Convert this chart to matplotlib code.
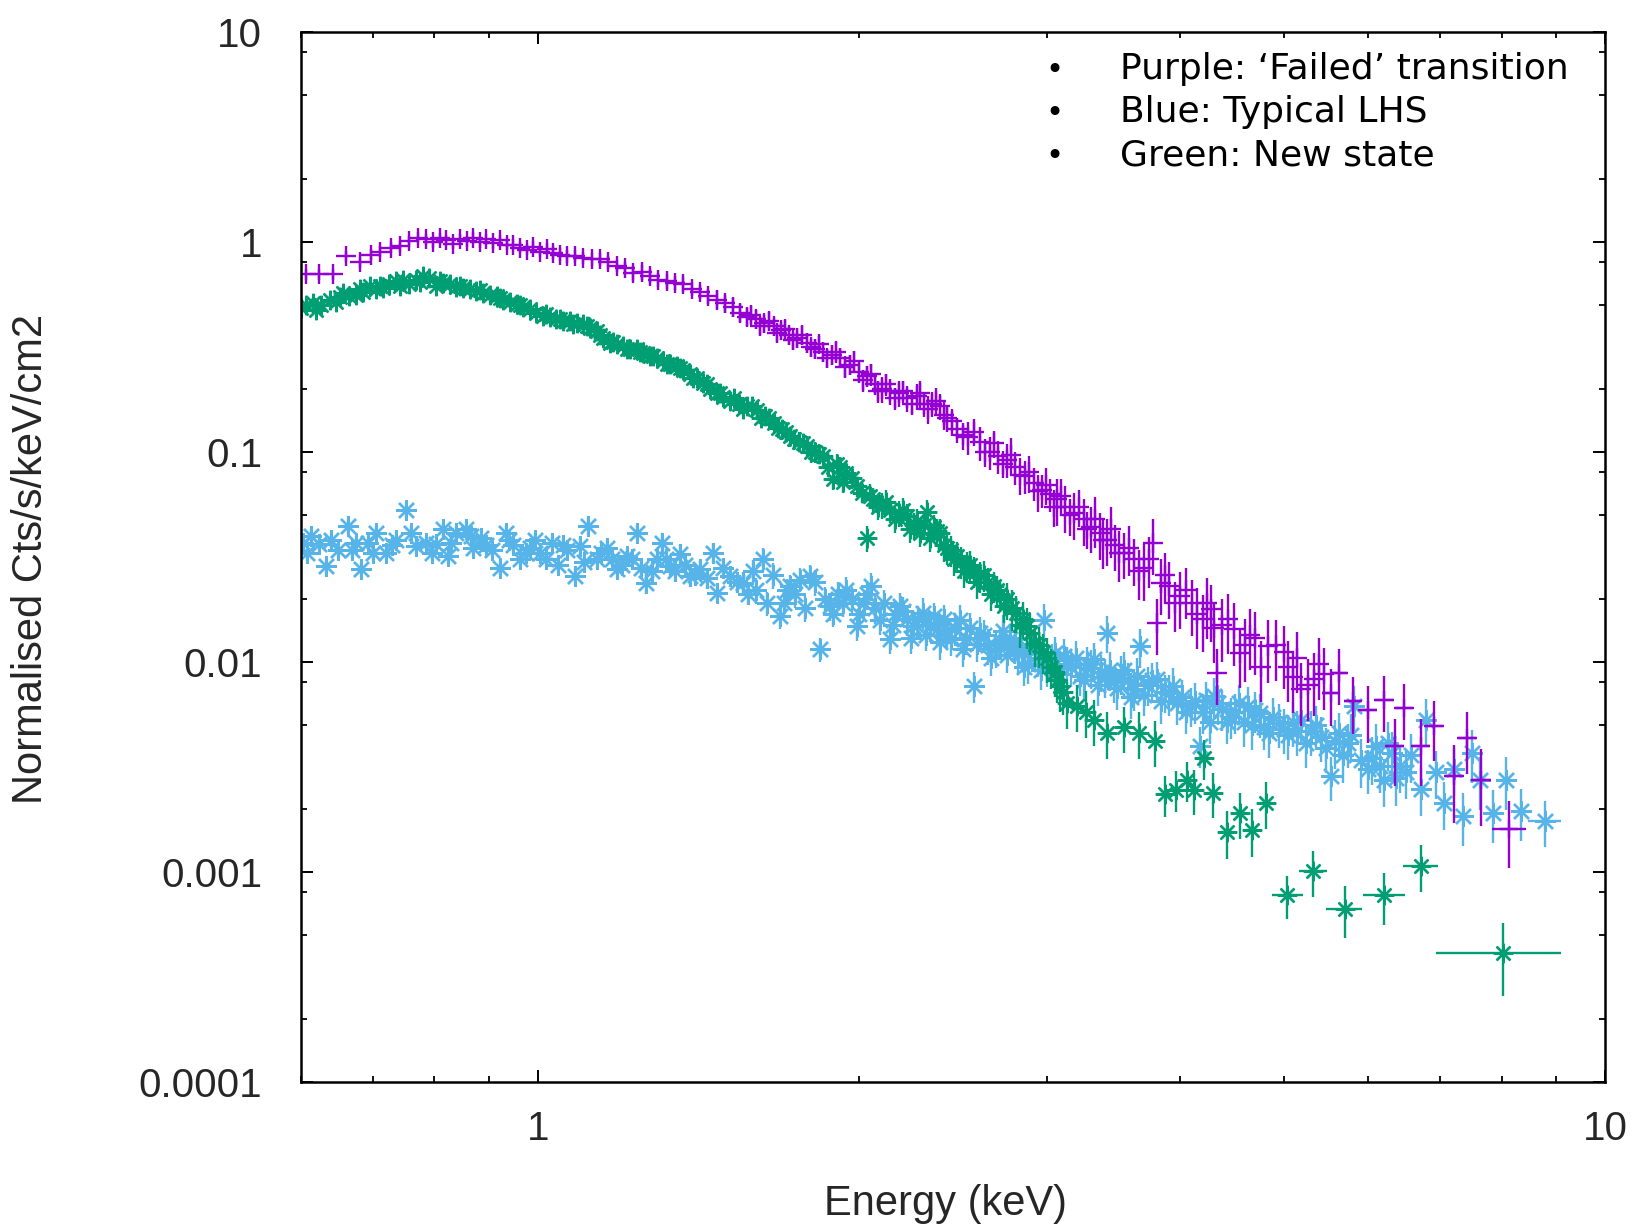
import numpy as np
import matplotlib.pyplot as plt
from matplotlib.ticker import LogLocator, NullFormatter

plt.rcParams['font.family'] = ['Liberation Sans', 'DejaVu Sans']

# ---- data (energy in keV, normalised counts/s/keV/cm2, relative error)
purple_energy = [
    0.607, 0.624, 0.643, 0.661, 0.681, 0.698, 0.711, 0.729, 0.742, 0.758,
    0.772, 0.786, 0.798, 0.810, 0.821, 0.833, 0.845, 0.858, 0.870, 0.883,
    0.895, 0.908, 0.921, 0.935, 0.948, 0.962, 0.976, 0.990, 1.004, 1.019,
    1.034, 1.049, 1.064, 1.083, 1.103, 1.123, 1.144, 1.164, 1.185, 1.207,
    1.229, 1.251, 1.274, 1.297, 1.320, 1.344, 1.369, 1.394, 1.419, 1.445,
    1.471, 1.498, 1.525, 1.547, 1.570, 1.600, 1.630, 1.663, 1.690, 1.720,
    1.750, 1.787, 1.820, 1.850, 1.885, 1.920, 1.960, 2.000, 2.034, 2.070,
    2.100, 2.138, 2.180, 2.220, 2.266, 2.300, 2.340, 2.383, 2.420, 2.471,
    2.530, 2.598, 2.650, 2.700, 2.753, 2.800, 2.860, 2.916, 2.970, 3.020,
    3.066, 3.120, 3.180, 3.247, 3.300, 3.360, 3.416, 3.470, 3.540, 3.618,
    3.700, 3.770, 3.800, 3.840, 3.900, 4.000, 4.100, 4.200, 4.270, 4.330,
    4.380, 4.490, 4.600, 4.700, 4.830, 5.000, 5.100, 5.190, 5.340, 5.450]
purple_flux = [
    0.70, 0.70, 0.70, 0.855, 0.80, 0.87, 0.90, 0.94, 0.955, 1.01,
    1.05, 1.03, 1.00, 1.04, 1.02, 0.98, 1.03, 1.01, 1.05, 1.00,
    1.03, 0.99, 1.02, 0.97, 0.97, 0.94, 0.92, 0.95, 0.90, 0.93,
    0.89, 0.87, 0.855, 0.86, 0.84, 0.83, 0.826, 0.80, 0.77, 0.75,
    0.71, 0.72, 0.69, 0.66, 0.65, 0.64, 0.63, 0.60, 0.58, 0.55,
    0.53, 0.51, 0.49, 0.46, 0.44, 0.43, 0.41, 0.397, 0.38, 0.36,
    0.35, 0.331, 0.31, 0.30, 0.29, 0.281, 0.26, 0.24, 0.230, 0.21,
    0.20, 0.195, 0.19, 0.18, 0.184, 0.17, 0.17, 0.165, 0.145, 0.128,
    0.118, 0.111, 0.100, 0.096, 0.092, 0.085, 0.077, 0.0713, 0.066, 0.063,
    0.0594, 0.055, 0.051, 0.0477, 0.044, 0.041, 0.0383, 0.036, 0.033, 0.0308,
    0.028, 0.037, 0.0154, 0.0238, 0.023, 0.0206, 0.019, 0.016, 0.0178, 0.0089,
    0.015, 0.0143, 0.012, 0.013, 0.0119, 0.0111, 0.0085, 0.0074, 0.0083, 0.0088]
purple_relerr = [
    0.06, 0.06, 0.06, 0.06, 0.06, 0.06, 0.06, 0.06, 0.06, 0.06,
    0.06, 0.06, 0.06, 0.06, 0.06, 0.06, 0.06, 0.06, 0.06, 0.06,
    0.06, 0.06, 0.06, 0.06, 0.06, 0.06, 0.06, 0.06, 0.06, 0.06,
    0.07, 0.07, 0.07, 0.07, 0.07, 0.07, 0.07, 0.07, 0.07, 0.07,
    0.08, 0.08, 0.08, 0.08, 0.08, 0.08, 0.08, 0.08, 0.08, 0.08,
    0.10, 0.10, 0.10, 0.10, 0.10, 0.10, 0.10, 0.10, 0.10, 0.10,
    0.11, 0.11, 0.11, 0.11, 0.11, 0.11, 0.11, 0.11, 0.11, 0.11,
    0.14, 0.14, 0.14, 0.14, 0.14, 0.14, 0.14, 0.14, 0.14, 0.14,
    0.18, 0.18, 0.18, 0.18, 0.18, 0.18, 0.18, 0.18, 0.18, 0.18,
    0.25, 0.25, 0.25, 0.25, 0.25, 0.25, 0.25, 0.25, 0.25, 0.25,
    0.30, 0.30, 0.30, 0.30, 0.30, 0.30, 0.30, 0.30, 0.30, 0.30,
    0.33, 0.33, 0.33, 0.33, 0.33, 0.33, 0.33, 0.33, 0.33, 0.33]
# more crosses from the thick part of the purple band
purple_band_energy = [
    1.585, 1.615, 1.646, 1.676, 1.705, 1.735, 1.768, 1.803, 1.835, 1.868,
    1.902, 1.940, 1.980, 2.017, 2.052, 2.085, 2.120, 2.160, 2.200, 2.243,
    2.283, 2.320, 2.360, 2.400, 2.445, 2.500, 2.565, 2.625, 2.675, 2.727,
    2.777, 2.830, 2.888, 2.943, 2.995, 3.043, 3.093, 3.150, 3.213, 3.273,
    3.330, 3.388, 3.443, 3.505, 3.580, 3.660, 3.735, 3.870, 3.950, 4.050,
    4.150, 4.235, 4.300, 4.430, 4.545, 4.650, 4.765, 4.915, 5.050, 5.145,
    5.265, 5.390]
purple_band_flux = [
    0.45, 0.40, 0.42, 0.37, 0.385, 0.34, 0.36, 0.315, 0.325, 0.28,
    0.30, 0.255, 0.27, 0.22, 0.235, 0.195, 0.21, 0.18, 0.195, 0.17,
    0.19, 0.16, 0.175, 0.15, 0.14, 0.12, 0.125, 0.10, 0.11, 0.088,
    0.097, 0.078, 0.080, 0.065, 0.070, 0.055, 0.062, 0.050, 0.055, 0.043,
    0.048, 0.038, 0.043, 0.033, 0.035, 0.027, 0.031, 0.026, 0.019, 0.022,
    0.017, 0.019, 0.0145, 0.016, 0.011, 0.0135, 0.0095, 0.012, 0.0095, 0.0105,
    0.0078, 0.0098]
purple_band_relerr = [
    0.10, 0.10, 0.10, 0.10, 0.10, 0.10, 0.10, 0.10, 0.10, 0.10,
    0.12, 0.12, 0.12, 0.12, 0.12, 0.12, 0.12, 0.12, 0.12, 0.12,
    0.15, 0.15, 0.15, 0.15, 0.15, 0.15, 0.15, 0.15, 0.15, 0.15,
    0.20, 0.20, 0.20, 0.20, 0.20, 0.20, 0.20, 0.20, 0.20, 0.20,
    0.27, 0.27, 0.27, 0.27, 0.27, 0.27, 0.27, 0.27, 0.27, 0.27,
    0.32, 0.32, 0.32, 0.32, 0.32, 0.32, 0.32, 0.32, 0.32, 0.32,
    0.33, 0.33]
purple_tail_energy = [5.53, 5.63, 5.80, 5.99, 6.21, 6.35, 6.48, 6.72, 6.92, 7.22, 7.43, 7.65, 8.13]
purple_tail_flux = [0.0071, 0.0089, 0.0065, 0.0059, 0.0066, 0.00397, 0.00605, 0.00397,
                    0.00494, 0.00286, 0.00436, 0.00275, 0.00161]
purple_tail_relerr = [0.30, 0.30, 0.30, 0.30, 0.30, 0.35, 0.30, 0.35, 0.32, 0.40, 0.33, 0.40, 0.35]
purple_tail_ewidth = [0.10, 0.10, 0.11, 0.12, 0.13, 0.13, 0.14, 0.14, 0.15, 0.15, 0.16, 0.16, 0.30]

green_energy = [
    0.600, 0.607, 0.615, 0.626, 0.638, 0.647, 0.657, 0.666, 0.676, 0.686,
    0.696, 0.706, 0.716, 0.726, 0.737, 0.747, 0.758, 0.769, 0.780, 0.791,
    0.803, 0.815, 0.827, 0.839, 0.851, 0.864, 0.876, 0.889, 0.901, 0.915,
    0.928, 0.941, 0.955, 0.969, 0.983, 0.997, 1.011, 1.026, 1.041, 1.056,
    1.071, 1.087, 1.103, 1.119, 1.135, 1.151, 1.168, 1.185, 1.202, 1.220,
    1.238, 1.256, 1.274, 1.292, 1.311, 1.330, 1.349, 1.369, 1.389, 1.409,
    1.429, 1.450, 1.471, 1.492, 1.514, 1.542, 1.570, 1.604, 1.633, 1.663,
    1.693, 1.723, 1.755, 1.787, 1.819, 1.852, 1.892, 1.920, 1.946, 1.990,
    2.034, 2.063, 2.100, 2.138, 2.180, 2.217, 2.250, 2.282, 2.316, 2.350,
    2.383, 2.420, 2.453, 2.490, 2.525, 2.560, 2.598, 2.640, 2.674, 2.710,
    2.753, 2.807, 2.850, 2.890, 2.950, 3.000, 3.050, 3.086, 3.130, 3.200,
    3.260, 3.317, 3.416, 3.540, 3.660, 3.790]
green_flux = [
    0.486, 0.50, 0.513, 0.50, 0.532, 0.52, 0.573, 0.55, 0.562, 0.58,
    0.616, 0.60, 0.605, 0.63, 0.65, 0.66, 0.628, 0.66, 0.687, 0.67,
    0.616, 0.64, 0.628, 0.61, 0.605, 0.60, 0.583, 0.57, 0.562, 0.55,
    0.532, 0.52, 0.504, 0.49, 0.477, 0.46, 0.443, 0.44, 0.428, 0.42,
    0.42, 0.41, 0.405, 0.39, 0.376, 0.35, 0.331, 0.325, 0.319, 0.31,
    0.308, 0.295, 0.286, 0.28, 0.271, 0.262, 0.256, 0.245, 0.234, 0.224,
    0.214, 0.20, 0.191, 0.182, 0.175, 0.17, 0.165, 0.159, 0.148, 0.138,
    0.128, 0.119, 0.112, 0.107, 0.10, 0.0955, 0.074, 0.085, 0.0796, 0.0688,
    0.039, 0.0594, 0.056, 0.0532, 0.051, 0.0495, 0.045, 0.0412, 0.0517, 0.044,
    0.0412, 0.035, 0.0308, 0.030, 0.0286, 0.027, 0.0256, 0.024, 0.023, 0.021,
    0.0199, 0.0172, 0.016, 0.0138, 0.012, 0.0105, 0.009, 0.0077, 0.0064, 0.0062,
    0.0058, 0.0053, 0.0046, 0.0049, 0.0046, 0.0042]
green_relerr = [
    0.04, 0.04, 0.04, 0.04, 0.04, 0.04, 0.04, 0.04, 0.04, 0.04,
    0.04, 0.04, 0.04, 0.04, 0.04, 0.04, 0.04, 0.04, 0.04, 0.04,
    0.04, 0.04, 0.04, 0.04, 0.04, 0.04, 0.04, 0.04, 0.04, 0.04,
    0.04, 0.04, 0.04, 0.04, 0.04, 0.04, 0.04, 0.04, 0.04, 0.04,
    0.05, 0.05, 0.05, 0.05, 0.05, 0.05, 0.05, 0.05, 0.05, 0.05,
    0.06, 0.06, 0.06, 0.06, 0.06, 0.06, 0.06, 0.06, 0.06, 0.06,
    0.08, 0.08, 0.08, 0.08, 0.08, 0.08, 0.08, 0.08, 0.08, 0.08,
    0.11, 0.11, 0.11, 0.11, 0.11, 0.11, 0.11, 0.11, 0.11, 0.11,
    0.14, 0.14, 0.14, 0.14, 0.14, 0.14, 0.14, 0.14, 0.14, 0.14,
    0.17, 0.17, 0.17, 0.17, 0.17, 0.17, 0.17, 0.17, 0.17, 0.17,
    0.20, 0.20, 0.20, 0.22, 0.22, 0.24, 0.24, 0.25, 0.25, 0.25,
    0.25, 0.25, 0.25, 0.25, 0.25, 0.25]
# more stars from the thick part of the green band
green_band_energy = [
    0.620, 0.652, 0.681, 0.711, 0.742, 0.775, 0.809, 0.845, 0.882, 0.921, 0.962,
    1.018, 1.048, 1.079, 1.111, 1.143, 1.177, 1.211, 1.247, 1.283, 1.320,
    1.359, 1.399, 1.440, 1.482, 1.528, 1.556, 1.587, 1.618, 1.648, 1.678,
    1.708, 1.739, 1.771, 1.803, 1.835, 1.872, 1.906, 1.933, 1.968, 2.012,
    2.048, 2.082, 2.119, 2.159, 2.198, 2.234, 2.266, 2.299, 2.333, 2.367,
    2.401, 2.437, 2.471, 2.507, 2.542, 2.579, 2.619, 2.657, 2.692, 2.731,
    2.780, 2.828, 2.870, 2.920, 2.975, 3.025, 3.068, 3.108]
green_band_flux = [
    0.475, 0.545, 0.595, 0.62, 0.62, 0.645, 0.655, 0.62, 0.59, 0.54, 0.50,
    0.455, 0.43, 0.405, 0.40, 0.36, 0.335, 0.31, 0.30, 0.285, 0.262,
    0.25, 0.225, 0.21, 0.19, 0.18, 0.16, 0.165, 0.145, 0.145, 0.13,
    0.125, 0.115, 0.11, 0.10, 0.098, 0.085, 0.088, 0.072, 0.075, 0.064,
    0.062, 0.055, 0.058, 0.048, 0.053, 0.043, 0.047, 0.045, 0.039, 0.042,
    0.036, 0.034, 0.032, 0.027, 0.029, 0.024, 0.026, 0.021, 0.022, 0.0185,
    0.018, 0.015, 0.0148, 0.0122, 0.0112, 0.0095, 0.0082, 0.0072]
green_band_relerr = [
    0.04, 0.04, 0.04, 0.04, 0.04, 0.04, 0.04, 0.04, 0.04, 0.04, 0.04,
    0.05, 0.05, 0.05, 0.05, 0.05, 0.05, 0.05, 0.05, 0.05, 0.05,
    0.07, 0.07, 0.07, 0.07, 0.07, 0.07, 0.07, 0.07, 0.07, 0.07,
    0.11, 0.11, 0.11, 0.11, 0.11, 0.11, 0.11, 0.11, 0.11, 0.11,
    0.14, 0.14, 0.14, 0.14, 0.14, 0.14, 0.14, 0.14, 0.14, 0.14,
    0.17, 0.17, 0.17, 0.17, 0.17, 0.17, 0.17, 0.17, 0.17, 0.17,
    0.22, 0.22, 0.22, 0.22, 0.22, 0.22, 0.22, 0.22]
green_tail_energy = [3.87, 3.96, 4.06, 4.12, 4.21, 4.29, 4.42, 4.55, 4.67, 4.81,
                     5.04, 5.33, 5.70, 6.21, 6.72, 8.02]
green_tail_flux = [0.00234, 0.00247, 0.00275, 0.00247, 0.0035, 0.00238, 0.00155, 0.00191,
                   0.00159, 0.00214, 0.000776, 0.00101, 0.00067, 0.000776, 0.00107, 0.000412]
green_tail_relerr = [0.22, 0.22, 0.22, 0.24, 0.22, 0.24, 0.26, 0.25, 0.26, 0.25,
                     0.23, 0.25, 0.28, 0.28, 0.25, 0.38]
green_tail_ewidth = [0.04, 0.04, 0.04, 0.04, 0.05, 0.05, 0.05, 0.05, 0.06, 0.06,
                     0.17, 0.16, 0.22, 0.28, 0.25, 1.08]

blue_energy = [
    0.603, 0.613, 0.624, 0.633, 0.650, 0.664, 0.676, 0.683, 0.693, 0.706,
    0.721, 0.737, 0.753, 0.769, 0.786, 0.803, 0.815, 0.824, 0.839, 0.857,
    0.870, 0.885, 0.905, 0.921, 0.934, 0.948, 0.962, 0.983, 1.004, 1.030,
    1.045, 1.064, 1.084, 1.095, 1.115, 1.135, 1.160, 1.185, 1.211, 1.238,
    1.264, 1.292, 1.306, 1.330, 1.359, 1.389, 1.419, 1.460, 1.471, 1.514,
    1.558, 1.590, 1.627, 1.638, 1.686, 1.711, 1.723, 1.761, 1.799, 1.839,
    1.878, 1.910, 1.946, 1.990, 2.020, 2.050, 2.094, 2.138, 2.160, 2.185,
    2.220, 2.249, 2.298, 2.330, 2.365, 2.400, 2.436, 2.489, 2.520, 2.560,
    2.598, 2.640, 2.690, 2.730, 2.772, 2.820, 2.854, 2.900, 2.940, 2.980,
    3.000, 3.050, 3.110, 3.160, 3.220, 3.270, 3.317, 3.370, 3.416, 3.466,
    3.520, 3.570, 3.618, 3.670, 3.730, 3.800, 3.870, 3.940, 4.010, 4.090,
    4.170, 4.230, 4.300, 4.380, 4.460, 4.540, 4.630, 4.700, 4.790, 4.890,
    5.000, 5.100, 5.190, 5.300, 5.420, 5.530, 5.630, 5.740, 5.820, 5.990,
    6.100, 6.210, 6.320, 6.430, 6.580, 6.720, 6.800, 6.940, 7.070, 7.220,
    7.360, 7.500, 7.640, 7.860, 8.080, 8.340]
blue_flux = [
    0.037, 0.0397, 0.0363, 0.0286, 0.0343, 0.0443, 0.037, 0.0276, 0.037, 0.0412,
    0.0331, 0.0383, 0.0528, 0.0356, 0.037, 0.0363, 0.0428, 0.0319, 0.0412, 0.0428,
    0.035, 0.039, 0.0343, 0.0281, 0.0412, 0.036, 0.0308, 0.035, 0.0331, 0.037,
    0.0291, 0.0343, 0.0256, 0.0356, 0.0443, 0.0308, 0.035, 0.0276, 0.0319, 0.0412,
    0.0238, 0.0308, 0.037, 0.0286, 0.0325, 0.0256, 0.0276, 0.0331, 0.0214, 0.0256,
    0.0238, 0.027, 0.0308, 0.0191, 0.0165, 0.0221, 0.023, 0.0247, 0.0256, 0.0115,
    0.0185, 0.021, 0.0221, 0.0148, 0.019, 0.023, 0.0159, 0.0128, 0.017, 0.0185,
    0.016, 0.0148, 0.0172, 0.015, 0.0143, 0.016, 0.0128, 0.0159, 0.013, 0.0077,
    0.0138, 0.012, 0.0115, 0.014, 0.0128, 0.011, 0.0095, 0.012, 0.0105, 0.0159,
    0.0095, 0.011, 0.0107, 0.0095, 0.0086, 0.0098, 0.0103, 0.009, 0.0138, 0.008,
    0.0088, 0.0082, 0.0074, 0.0119, 0.0078, 0.0083, 0.0072, 0.0077, 0.0068, 0.0062,
    0.0040, 0.0066, 0.0069, 0.006, 0.0055, 0.0064, 0.0062, 0.0059, 0.0049, 0.0055,
    0.0048, 0.0052, 0.0053, 0.0047, 0.0044, 0.00286, 0.0046, 0.0041, 0.0062, 0.00308,
    0.0040, 0.00275, 0.0037, 0.0032, 0.0036, 0.00249, 0.0053, 0.0030, 0.00214, 0.0031,
    0.00185, 0.0037, 0.00275, 0.00191, 0.00275, 0.00195]
blue_relerr = [
    0.08, 0.08, 0.08, 0.08, 0.08, 0.08, 0.08, 0.08, 0.08, 0.08,
    0.08, 0.08, 0.08, 0.08, 0.08, 0.08, 0.08, 0.08, 0.08, 0.08,
    0.08, 0.08, 0.08, 0.08, 0.08, 0.08, 0.08, 0.08, 0.08, 0.08,
    0.09, 0.09, 0.09, 0.09, 0.09, 0.09, 0.09, 0.09, 0.09, 0.09,
    0.11, 0.11, 0.11, 0.11, 0.11, 0.11, 0.11, 0.11, 0.11, 0.11,
    0.13, 0.13, 0.13, 0.13, 0.13, 0.13, 0.13, 0.13, 0.13, 0.13,
    0.15, 0.15, 0.15, 0.15, 0.15, 0.15, 0.15, 0.15, 0.15, 0.15,
    0.17, 0.17, 0.17, 0.17, 0.17, 0.17, 0.17, 0.17, 0.17, 0.17,
    0.19, 0.19, 0.19, 0.19, 0.19, 0.19, 0.19, 0.19, 0.19, 0.19,
    0.20, 0.20, 0.20, 0.20, 0.20, 0.20, 0.20, 0.20, 0.20, 0.20,
    0.21, 0.21, 0.21, 0.21, 0.21, 0.21, 0.21, 0.21, 0.21, 0.21,
    0.22, 0.22, 0.22, 0.22, 0.22, 0.22, 0.22, 0.22, 0.22, 0.22,
    0.24, 0.24, 0.24, 0.24, 0.24, 0.24, 0.24, 0.24, 0.24, 0.24,
    0.26, 0.26, 0.26, 0.26, 0.26, 0.26, 0.26, 0.26, 0.26, 0.26,
    0.28, 0.28, 0.28, 0.28, 0.28, 0.28]
# more stars from the thick part of the blue band
blue_band_energy = [
    0.608, 0.640, 0.670, 0.700, 0.730, 0.760, 0.795, 0.830, 0.865, 0.895,
    0.940, 0.975, 0.993, 1.017, 1.055, 1.105, 1.147, 1.173, 1.198, 1.225,
    1.250, 1.278, 1.318, 1.345, 1.374, 1.404, 1.440, 1.490, 1.536, 1.575,
    1.600, 1.660, 1.700, 1.740, 1.780, 1.820, 1.860, 1.890, 1.930, 1.970,
    2.000, 2.035, 2.070, 2.110, 2.150, 2.200, 2.235, 2.270, 2.310, 2.350,
    2.380, 2.420, 2.460, 2.500, 2.540, 2.580, 2.620, 2.660, 2.710, 2.750,
    2.800, 2.840, 2.880, 2.920, 2.960, 3.030, 3.080, 3.130, 3.190, 3.250,
    3.300, 3.350, 3.400, 3.440, 3.490, 3.545, 3.595, 3.645, 3.700, 3.765,
    3.835, 3.905, 3.975, 4.050, 4.130, 4.200, 4.265, 4.340, 4.420, 4.500,
    4.585, 4.665, 4.745, 4.840, 4.945, 5.050, 5.145, 5.245, 5.360, 5.475,
    5.580, 5.685, 5.780, 5.905, 6.050, 6.155, 6.265, 6.375, 6.505]
blue_band_flux = [
    0.033, 0.038, 0.034, 0.033, 0.036, 0.041, 0.033, 0.037, 0.040, 0.036,
    0.038, 0.033, 0.038, 0.031, 0.036, 0.030, 0.033, 0.031, 0.029, 0.031,
    0.028, 0.027, 0.031, 0.027, 0.029, 0.026, 0.025, 0.028, 0.024, 0.021,
    0.022, 0.026, 0.019, 0.021, 0.018, 0.024, 0.020, 0.017, 0.019, 0.020,
    0.017, 0.021, 0.018, 0.019, 0.015, 0.0175, 0.013, 0.016, 0.0135, 0.0165,
    0.0125, 0.014, 0.0145, 0.0115, 0.0145, 0.0122, 0.0135, 0.0105, 0.0125, 0.0108,
    0.0122, 0.0112, 0.0098, 0.0115, 0.0092, 0.0102, 0.0088, 0.0098, 0.0105, 0.0082,
    0.0094, 0.0078, 0.0085, 0.0092, 0.0075, 0.0092, 0.0068, 0.0086, 0.0070, 0.0082,
    0.0065, 0.0071, 0.0064, 0.0058, 0.0065, 0.0058, 0.0052, 0.0064, 0.0052, 0.0058,
    0.0052, 0.0050, 0.0057, 0.0046, 0.0051, 0.0045, 0.0047, 0.0041, 0.0050, 0.0039,
    0.0042, 0.0036, 0.0045, 0.0034, 0.0035, 0.0032, 0.0041, 0.0028, 0.0030]
blue_band_relerr = [
    0.08, 0.08, 0.08, 0.08, 0.08, 0.08, 0.08, 0.08, 0.08, 0.08,
    0.08, 0.08, 0.08, 0.08, 0.08, 0.08, 0.08, 0.08, 0.08, 0.08,
    0.11, 0.11, 0.11, 0.11, 0.11, 0.11, 0.11, 0.11, 0.11, 0.11,
    0.14, 0.14, 0.14, 0.14, 0.14, 0.14, 0.14, 0.14, 0.14, 0.14,
    0.16, 0.16, 0.16, 0.16, 0.16, 0.16, 0.16, 0.16, 0.16, 0.16,
    0.18, 0.18, 0.18, 0.18, 0.18, 0.18, 0.18, 0.18, 0.18, 0.18,
    0.20, 0.20, 0.20, 0.20, 0.20, 0.20, 0.20, 0.20, 0.20, 0.20,
    0.21, 0.21, 0.21, 0.21, 0.21, 0.21, 0.21, 0.21, 0.21, 0.21,
    0.22, 0.22, 0.22, 0.22, 0.22, 0.22, 0.22, 0.22, 0.22, 0.22,
    0.24, 0.24, 0.24, 0.24, 0.24, 0.24, 0.24, 0.24, 0.24, 0.24,
    0.26, 0.26, 0.26, 0.26, 0.26, 0.26, 0.26, 0.26, 0.26]
blue_tail_energy = [8.78]
blue_tail_flux = [0.00175]
blue_tail_relerr = [0.25]
blue_tail_ewidth = [0.32]

y_tick_values = [1e-4, 1e-3, 1e-2, 1e-1, 1, 10]
y_tick_labels = ['0.0001', '0.001', '0.01', '0.1', '1', '10']
x_tick_values = [1, 10]
x_tick_labels = ['1', '10']
notes = ["Purple: \u2018Failed\u2019 transition", "Blue: Typical LHS", "Green: New state"]

PURPLE = '#9400d3'
GREEN = '#009e73'
BLUE = '#56b4e9'
STAR = (8, 2, 0)


def plot_spectrum(ax, energy, flux, relerr, color, marker, ms, ewidth=None):
    energy = np.asarray(energy)
    flux = np.asarray(flux)
    yerr = flux * np.asarray(relerr)
    xerr = None if ewidth is None else np.asarray(ewidth)
    ax.errorbar(energy, flux, yerr=yerr, xerr=xerr, fmt='none', ecolor=color,
                elinewidth=1.7, capsize=0)
    ax.plot(energy, flux, linestyle='none', marker=marker, ms=ms, mew=1.7,
            color=color)


fig = plt.figure(figsize=(16.39, 12.29), dpi=100)
ax = fig.add_axes([0.1837, 0.1196, 0.7956, 0.8544])
ax.set_xscale('log')
ax.set_yscale('log')

plot_spectrum(ax, blue_energy, blue_flux, blue_relerr, BLUE, STAR, 15)
plot_spectrum(ax, blue_band_energy, blue_band_flux, blue_band_relerr, BLUE, STAR, 15)
plot_spectrum(ax, blue_tail_energy, blue_tail_flux, blue_tail_relerr, BLUE, STAR, 15, blue_tail_ewidth)
plot_spectrum(ax, green_energy, green_flux, green_relerr, GREEN, STAR, 14)
plot_spectrum(ax, green_band_energy, green_band_flux, green_band_relerr, GREEN, STAR, 14)
plot_spectrum(ax, green_tail_energy, green_tail_flux, green_tail_relerr, GREEN, STAR, 14, green_tail_ewidth)
plot_spectrum(ax, purple_energy, purple_flux, purple_relerr, PURPLE, '+', 14)
plot_spectrum(ax, purple_band_energy, purple_band_flux, purple_band_relerr, PURPLE, '+', 14)
plot_spectrum(ax, purple_tail_energy, purple_tail_flux, purple_tail_relerr, PURPLE, '+', 13, purple_tail_ewidth)

ax.set_xlim(0.6, 10)
ax.set_ylim(1e-4, 10)
ax.set_xticks(x_tick_values)
ax.set_xticklabels(x_tick_labels)
ax.xaxis.set_minor_locator(LogLocator(base=10, subs=np.arange(2, 10), numticks=20))
ax.xaxis.set_minor_formatter(NullFormatter())
ax.set_yticks(y_tick_values)
ax.set_yticklabels(y_tick_labels)
ax.yaxis.set_minor_locator(LogLocator(base=10, subs=(2, 5, 8), numticks=20))
ax.yaxis.set_minor_formatter(NullFormatter())

ax.tick_params(which='both', direction='in', top=True, right=True, colors='black')
ax.tick_params(which='major', length=8.5, width=1.4, labelsize=29, labelcolor='#262626')
ax.tick_params(which='minor', length=4.5, width=1.3)
ax.tick_params(axis='y', which='major', pad=28)
ax.tick_params(axis='x', which='major', pad=20)
for sp in ax.spines.values():
    sp.set_linewidth(1.8)

fig.text(0.577, 0.0205, 'Energy (keV)', ha='center', va='center', fontsize=30, color='#262626')
fig.text(0.019, 0.545, 'Normalised Cts/s/keV/cm2', ha='center', va='center',
         rotation=90, fontsize=30, color='#262626')

for i, note in enumerate(notes):
    y = 0.955 - i * 0.041
    ax.text(0.5775, y, '\u2022', transform=ax.transAxes, ha='center', va='baseline',
            fontsize=22, family='DejaVu Sans')
    ax.text(0.628, y, note, transform=ax.transAxes, ha='left', va='baseline',
            fontsize=26, family='DejaVu Sans')

fig.savefig('out.png', dpi=100)
